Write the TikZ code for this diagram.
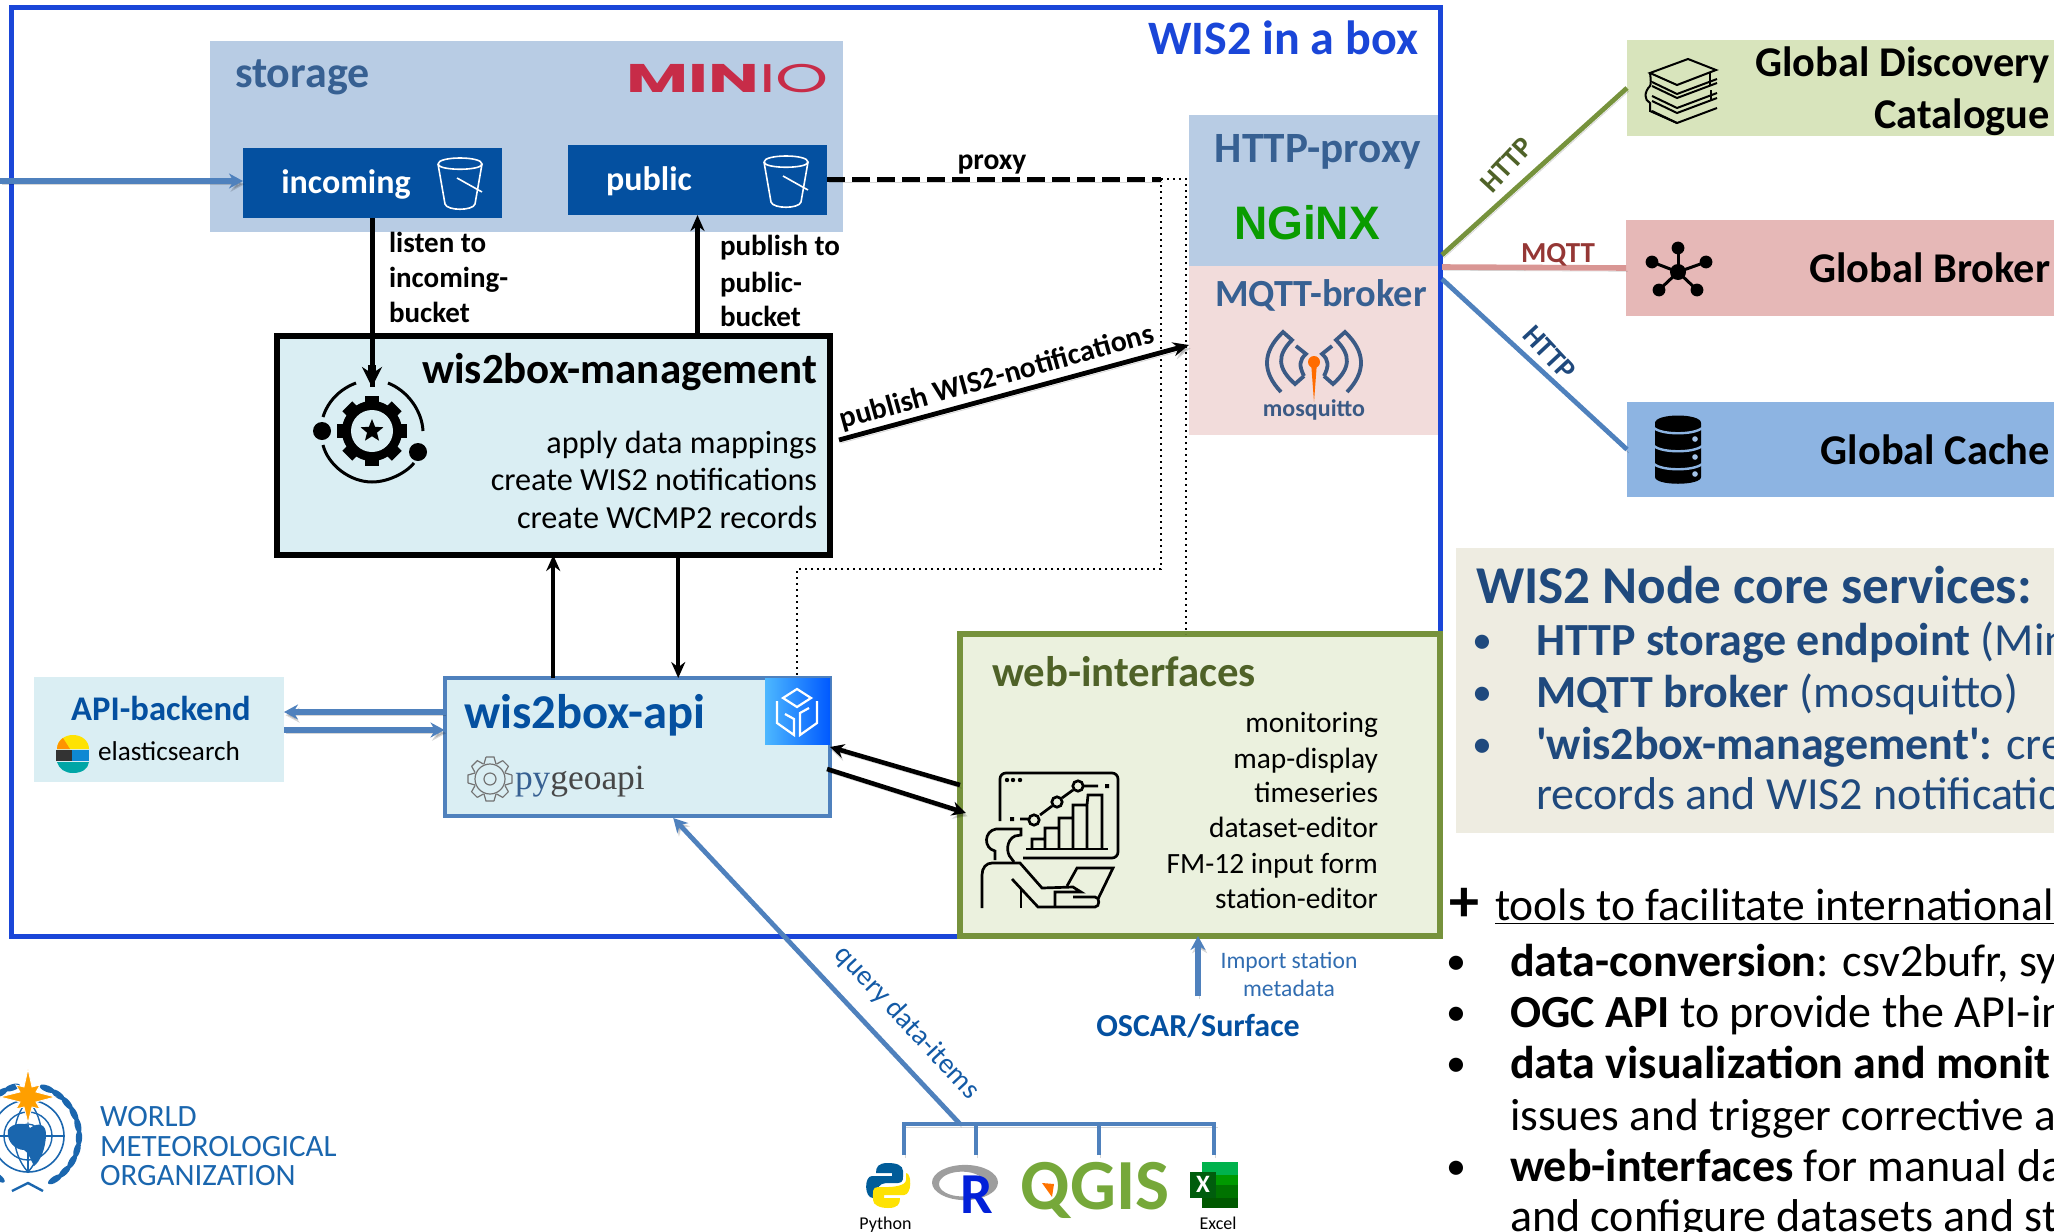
\documentclass[tikz,border=0pt]{standalone}
\usepackage{fontspec}
\usepackage{graphicx}
\setmainfont{Carlito}
\newfontfamily\plainc{Carlito}
\newfontfamily\serifish{Liberation Serif}
\newfontfamily\logofont{Poppins}
\newfontfamily\nginxfont{Liberation Sans}
\usetikzlibrary{arrows.meta,shapes.geometric,calc}
\definecolor{framec}{HTML}{1A46D8}
\definecolor{lblue}{HTML}{B8CCE4}
\definecolor{dblue}{HTML}{0450A0}
\definecolor{aqua}{HTML}{DAEEF3}
\definecolor{stblue}{HTML}{4F81BD}
\definecolor{slate}{HTML}{376092}
\definecolor{navy}{HTML}{1F497D}
\definecolor{pinkb}{HTML}{F2DCDB}
\definecolor{olive}{HTML}{76923C}
\definecolor{dolive}{HTML}{4F6228}
\definecolor{paleg}{HTML}{EBF1DE}
\definecolor{gdcg}{HTML}{D8E4BC}
\definecolor{brokerr}{HTML}{E6B8B7}
\definecolor{cacheb}{HTML}{8DB4E2}
\definecolor{sand}{HTML}{EEECE1}
\definecolor{minio}{HTML}{C72C48}
\definecolor{nginxg}{HTML}{0A9C00}
\definecolor{mosq}{HTML}{3B5A85}
\definecolor{wmo}{HTML}{1A66AE}
\definecolor{redline}{HTML}{D99694}
\definecolor{mqttc}{HTML}{953735}
\definecolor{qgisg}{HTML}{76A83A}
\def\u{0.5pt}
\newcommand{\fs}[1]{\fontsize{#1}{#1}\selectfont}
\newcommand{\bx}[6]{\pgfmathsetmacro\bcx{(#2+#4)/2}\pgfmathsetmacro\bcy{(#3+#5)/2}%
 \pgfmathsetmacro\bw{(#4-#2)*0.5}\pgfmathsetmacro\bh{(#5-#3)*0.5}%
 \node[#6,minimum width=\bw pt,minimum height=\bh pt,inner sep=0pt,outer sep=0pt] (#1) at (\bcx,\bcy) {};}
\newcommand{\tx}[5]{\node[inner sep=0pt,outer sep=0pt,anchor=mid,#4] (#1) at (#2,#3) {#5};}
\tikzset{
 L/.style={anchor=mid west},
 R/.style={anchor=mid east},
 sz/.style={font=\fs{#1},yshift={-(0.3*#1-2.15)*1pt}},
 szb/.style={font=\fs{#1}\bfseries,yshift={-(0.3*#1-2.15)*1pt}},
 shad/.style={preaction={draw=black,opacity=.16,transform canvas={shift={(0.8pt,-1.6pt)}}}},
 blk/.style={line width=2.2pt,black,-{Stealth[length=8pt,width=7pt]}},
 blu/.style={line width=2.6pt,stblue,-{Stealth[length=7pt,width=7.5pt]},shad},
 ico/.style={line width=1pt,black},
 bkt/.style={white,line width=0.8pt},
}
\begin{document}
\begin{tikzpicture}[x=0.5pt,y=-0.5pt,line join=miter]
\useasboundingbox (0,0) rectangle (2054,1231);
% frame
\bx{frame}{11.5}{7.5}{1440}{936}{draw=framec,line width=2.5pt}
\tx{titlewis}{1418}{40}{R,text=framec,szb=24}{WIS2 in a box}
% storage
\bx{storage}{210}{41}{843}{232}{fill=lblue}
\tx{storaget}{235}{74}{L,text=slate,szb=22}{storage}
\tx{miniot}{829}{80}{R,text=minio,sz=20}{\logofont\scalebox{1.69}[1]{\textbf{MIN}IO}}
\bx{incoming}{243}{148}{502}{218}{fill=dblue}
\bx{public}{568}{145}{827}{215}{fill=dblue}
\tx{incomingt}{346}{183}{text=white,szb=17}{incoming}
\tx{publict}{649}{180}{text=white,szb=17}{public}
\foreach \bxx/\bxy in {460/184,786/182}{
 \begin{scope}[shift={(\bxx,\bxy)}]
 \draw[bkt] (-22,-20) .. controls (-22,-28) and (22,-28) .. (22,-20) .. controls (22,-13) and (-22,-13) .. (-22,-20);
 \draw[bkt] (-22,-20) -- (-15,20) .. controls (-13,27) and (13,27) .. (15,20) -- (22,-20);
 \draw[bkt] (-3,-6) -- (22,8);
 \end{scope}}
% mgmt
\bx{mgmt}{277}{336}{830}{555}{draw=black,fill=aqua,line width=2.7pt}
\tx{mgmtt}{817}{370}{R,szb=21.5}{wis2box-management}
\tx{mgmta}{817}{443}{R,sz=16.1}{apply data mappings}
\tx{mgmtb}{817}{480}{R,sz=16.1}{create WIS2 notifications}
\tx{mgmtc}{817}{518}{R,sz=16.1}{create WCMP2 records}
\bx{gear}{328}{387}{416}{475}{}
\begin{scope}[shift={(372,431)}]
 \foreach \a in {0,45,...,315}{\fill[black,rotate=\a] (-7,-35) rectangle (7,-22);}
 \fill[black] (0,0) circle (15pt);
 \fill[aqua] (0,0) circle (10.5pt);
 \node[star,star points=5,star point ratio=2.3,fill=black,minimum size=12pt,inner sep=0pt] (gearstar) at (0,0) {};
 \draw[line width=1.5pt] (-49,-14) .. controls (-44,-30) and (-32,-42) .. (-16,-48);
 \draw[line width=1.5pt] (16,-48) .. controls (36,-40) and (50,-20) .. (51,0);
 \draw[line width=1.5pt] (-49,14) .. controls (-44,34) and (-22,51) .. (0,51) .. controls (18,51) and (36,40) .. (42,32);
 \fill (46,21) circle (4.5pt);
 \fill (-50,0) circle (4.5pt);
\end{scope}
% listen labels
\tx{l1}{389}{243}{L,szb=14.5}{listen to}
\tx{l2}{389}{278}{L,szb=14.5}{incoming-}
\tx{l3}{389}{313}{L,szb=14.5}{bucket}
\tx{p1}{720}{246}{L,szb=14.5}{publish to}
\tx{p2}{720}{283}{L,szb=14.5}{public-}
\tx{p3}{720}{317}{L,szb=14.5}{bucket}
\draw[line width=2.4pt] (incoming.south) -- (incoming.south |- gear.north);
\draw[line width=3.8pt,-{Stealth[length=10pt,width=10pt]}] ([yshift=22*\u]gear.north) -- (gear.north);
\draw[blk] (public.south |- mgmt.north) -- (public.south);
\coordinate (inL) at (0,181);
\draw[blu] (inL) -- (incoming.west |- inL);
% proxy stack
\bx{httpp}{1189}{115}{1438}{266}{fill=lblue}
\bx{mqttb}{1189}{266}{1438}{435}{fill=pinkb}
\tx{httpt}{1318}{149}{text=slate,szb=21.6}{HTTP-proxy}
\tx{nginxt}{1307}{225}{text=nginxg,szb=23.5}{\nginxfont\scalebox{0.98}[1]{NGiNX}}
\tx{mqttt}{1321}{295}{text=slate,szb=19.2}{MQTT-broker}
\tx{mosqt}{1314}{409}{text=mosq,szb=12}{mosquitto}
\foreach \sg in {1,-1}{
 \begin{scope}[shift={(1314,0)},xscale=\sg,mosq,line width=1.9pt]
 \draw (-33,392) .. controls (-52,372) and (-52,352) .. (-31,332) -- (-22,340) .. controls (-37,355) and (-37,368) .. (-19,384) -- (-10,376);
 \draw (-18,346) -- (-8,354) .. controls (-15,360) and (-15,366) .. (-10,376);
 \end{scope}}
\fill[orange!85!red] (1314,362) circle (3pt);
\fill[orange!85!red] (1311,362) -- (1317,362) -- (1314,402) -- cycle;
% proxy lines
\coordinate (pj) at (1161,179);
\coordinate (pk) at (1186,179);
\draw[line width=2.5pt,dash pattern=on 9pt off 3.5pt,shad] (public.east |- pj) -- (pj);
\tx{proxyt}{992}{160}{szb=14.8}{proxy}
% api
\bx{api}{444.5}{678}{830}{816}{draw=stblue,fill=aqua,line width=2pt}
\tx{apit}{464}{713}{L,text=dblue,szb=24.3}{wis2box-api}
\tx{pyg}{515}{778}{L,sz=17.7}{\serifish\textcolor{slate}{py}\textcolor{black!72}{geoapi}}
\begin{scope}[shift={(490,779)},black!55,line width=0.6pt]
 \foreach \a in {0,45,...,315}{\draw[rotate=\a] (-4,-22) -- (4,-22) -- (6,-15);\draw[rotate=\a] (-4,-22) -- (-6,-15);}
 \draw (0,0) circle (7.5pt);
 \draw (0,0) circle (3pt);
\end{scope}
\bx{ogc}{765}{678}{830}{744}{left color=cyan!60!blue!70!white,right color=blue!65!cyan}
\begin{scope}[shift={(797,711)},white,line width=1.1pt]
 \draw (0,-22) -- (14,-13) -- (0,-4) -- (-14,-13) -- cycle;
 \draw (-20,-10) -- (-20,12) -- (-3,24) -- (-3,8) -- (-12,3);
 \draw (20,-10) -- (20,12) -- (3,24) -- (3,2) -- (12,-3);
\end{scope}
% API backend
\bx{backend}{34}{677}{284}{782}{fill=aqua}
\tx{backt}{161}{710}{text=dblue,szb=17.3}{API-backend}
\tx{elast}{98}{752}{L,sz=13.6}{elasticsearch}
\fill[yellow!85!orange] (57,749) .. controls (57,740) and (65,735) .. (73,735) .. controls (82,735) and (89,741) .. (89,749) -- cycle;
\fill[orange!85!yellow] (57,749) .. controls (57,744) and (60,740) .. (63,738) -- (70,749) -- cycle;
\fill[black!80] (56,750) rectangle (72,761);
\fill[cyan!70!blue] (72,750) rectangle (89,761);
\fill[teal!70!cyan] (57,762) .. controls (59,769) and (65,773) .. (73,773) .. controls (82,773) and (88,769) .. (89,762) -- cycle;
\draw[blu] (api.west |- 0,712) -- (backend.east |- 0,712);
\draw[blu] (backend.east |- 0,730) -- (api.west |- 0,730);
% mgmt-api
\draw[blk] ([xshift=-84*\u]api.north) -- ([xshift=-84*\u]api.north |- mgmt.south);
\draw[blk] ([xshift=41*\u]api.north |- mgmt.south) -- ([xshift=41*\u]api.north);
% global boxes
\bx{gdc}{1627}{40}{2060}{136}{fill=gdcg}
\bx{broker}{1626}{220}{2060}{316}{fill=brokerr}
\bx{cache}{1627}{402}{2060}{497}{fill=cacheb}
\tx{gdct}{2050}{63}{R,szb=21.2}{Global Discovery}
\tx{gdcu}{2050}{115}{R,szb=21.2}{Catalogue}
\tx{brokt}{2050}{269}{R,szb=21.2}{Global Broker}
\tx{cacht}{2050}{451}{R,szb=21.2}{Global Cache}
% book icon
\draw[ico] (1650,73) -- (1688,59) -- (1716,70) -- (1677,85) -- cycle;
\foreach \ap in {94,98,108,113,123}{
 \draw[ico] (1652,\ap-12) -- (1677,\ap) -- (1717,\ap-15);}
\draw[ico] (1650,73) .. controls (1651,80) and (1651,84) .. (1650,86) .. controls (1644,92) and (1644,100) .. (1650,103) -- (1650,111) -- (1677,123);
\draw[ico] (1710,73) -- (1710,85) (1711,90) -- (1711,100);
% broker icon
\begin{scope}[shift={(1678,272)}]
 \foreach \xx/\yy in {0/-24,28/-10,19/18,-19/18,-26/-10}{
  \draw[line width=1.5pt] (0,0) -- (\xx,\yy);
  \fill (\xx,\yy) circle (3.2pt);}
 \fill (0,0) circle (4pt);
\end{scope}
% db icon
\fill (1655,423) .. controls (1655,413) and (1701,413) .. (1701,423) -- (1701,477) .. controls (1701,486) and (1655,486) .. (1655,477) -- cycle;
\foreach \dy in {428,446,464}{
 \draw[cacheb,line width=1.2pt] (1654,\dy) .. controls (1662,\dy+7) and (1694,\dy+7) .. (1702,\dy);}
\foreach \dy in {439,457,474}{\fill[cacheb!80!white] (1695,\dy) circle (1.4pt);}
% global lines
\draw[olive,line width=2.4pt,shad] ([yshift=216.75*\u,xshift=2*\u]frame.east) -- (gdc.west);
\draw[redline,line width=2.8pt,shad] ([yshift=204.75*\u,xshift=2*\u]frame.east) -- (broker.west);
\draw[stblue,line width=2.4pt,shad] ([yshift=192.75*\u,xshift=2*\u]frame.east) -- (cache.west);
\tx{h1}{1510}{168}{rotate=47,text=dolive,font=\fs{14.5}\bfseries}{HTTP}
\tx{m1}{1558}{253}{text=mqttc,szb=14.5}{MQTT}
\tx{h2}{1546}{356}{rotate=-47,text=navy,font=\fs{14.5}\bfseries}{HTTP}
% publish
\draw[line width=2.4pt,-{Stealth[length=8pt,width=7pt]},shad] ([xshift=9*\u,yshift=5.5*\u]mgmt.east) -- ([yshift=5.5*\u]mqttb.west);
\tx{pubt}{998}{381}{rotate=15.5,font=\fs{14.9}\bfseries}{publish WIS2-notifications}
% web
\bx{web}{960}{634}{1440}{936}{draw=olive,fill=paleg,line width=2.6pt}
\tx{webt}{992}{673}{L,text=dolive,szb=21.4}{web-interfaces}
\tx{w1}{1378}{723}{R,sz=14.7}{monitoring}
\tx{w2}{1378}{759}{R,sz=14.7}{map-display}
\tx{w3}{1378}{793}{R,sz=14.7}{timeseries}
\tx{w4}{1378}{828}{R,sz=14.7}{dataset-editor}
\tx{w5}{1378}{864}{R,sz=14.7}{FM-12 input form}
\tx{w6}{1378}{899}{R,sz=14.7}{station-editor}
% person icon
\begin{scope}[line width=1.35pt]
 \draw[rounded corners=3pt] (1000,821) -- (1000,773) -- (1118,773) -- (1118,858) -- (1023,858);
 \fill (1007,780) circle (1.1pt) (1013,780) circle (1.1pt) (1020,780) circle (1.1pt);
 \draw (1026,849) -- (1108,849);
 \draw (1032,849) -- (1032,839) -- (1045,839) -- (1045,849) (1045,839) -- (1045,828) -- (1059,828) -- (1059,849) (1059,828) -- (1059,818) -- (1073,818) -- (1073,849) (1073,818) -- (1073,805) -- (1087,805) -- (1087,849) (1087,805) -- (1088,795) -- (1102,795) -- (1102,849);
 \draw (1020,819) -- (1028,819) (1040,815) -- (1052,806) (1062,798) -- (1073,790) (1084,786) -- (1098,786);
 \foreach \xx/\yy in {1034/820,1057/802,1078/786}{\draw[fill=paleg] (\xx,\yy) circle (2.6pt);}
 \fill (1010,817) rectangle (1014,821) (1105,784) rectangle (1109,788);
 \draw (995,860) -- (995,851) .. controls (983,848) and (984,831) .. (996,829) -- (1021,829) -- (1021,835) -- (1015,836) .. controls (1006,840) and (1006,853) .. (1011,858) -- (1014,862);
 \draw (982,908) -- (982,875) .. controls (982,868) and (986,863) .. (992,863) -- (1020,863) -- (1042,888) -- (1073,887) -- (1081,892) -- (1055,892) -- (1055,907);
 \draw (1012,879) -- (1038,907) -- (1095,907) .. controls (1100,907) and (1100,897) .. (1095,897) -- (1073,897);
 \draw (1021,888) -- (1021,908);
 \draw (1067,886) -- (1077,868) -- (1113,868) -- (1098,899);
\end{scope}
% web-api
\draw[line width=2.3pt,-{Stealth[length=7pt,width=7pt]},shad] (web.west |- 0,785) -- (api.east |- 0,747);
\draw[line width=2.3pt,-{Stealth[length=7pt,width=7pt]},shad] ([xshift=-3*\u]api.east |- 0,769) -- (966,813);
% dotted
\draw[line width=1pt,dotted] (pj) -- (pk) -- (pk |- web.north);
\draw[line width=1pt,dotted] (pj) -- (pj |- 0,569) -| ([xshift=160*\u]api.north);
% query
\coordinate (qtop) at (960,1124);
\draw[blu,line width=2.4pt] (qtop) -- ([xshift=36*\u,yshift=-2*\u]api.south);
\tx{qt}{905}{1025}{rotate=-47,text=dblue!80!stblue,font=\fs{14.3}}{query data-items}
\coordinate (bl) at (904,1155);\coordinate (b2) at (976,1155);\coordinate (b3) at (1099,1155);\coordinate (b4) at (1214,1155);
\draw[stblue,line width=2.4pt,shad] (bl) -- (904,1124) -- (1216,1124);
\draw[stblue,line width=2.4pt,shad] (b2) -- (b2 |- qtop) (b3) -- (b3 |- qtop) (b4) -- (b4 |- qtop);
% oscar
\tx{oscart}{1198}{1026}{text=dblue,szb=16}{OSCAR/Surface}
\tx{imp1}{1289}{961}{text=stblue!60!dblue,sz=11.8}{Import station}
\tx{imp2}{1289}{989}{text=stblue!60!dblue,sz=11.8}{metadata}
\coordinate (oscb) at (1198,996);
\draw[blu] (oscb) -- (oscb |- web.south);
% python
\fill[blue!40!cyan!60!black] (888,1163) .. controls (878,1163) and (876,1167) .. (876,1173) -- (892,1173) -- (892,1176) -- (872,1176) .. controls (864,1176) and (864,1198) .. (873,1198) -- (878,1198) -- (878,1190) .. controls (878,1184) and (884,1183) .. (888,1183) -- (898,1183) .. controls (904,1183) and (903,1178) .. (903,1171) .. controls (903,1165) and (896,1163) .. (888,1163) -- cycle;
\fill[yellow!85!orange] (888,1208) .. controls (898,1208) and (900,1204) .. (900,1198) -- (884,1198) -- (884,1195) -- (904,1195) .. controls (912,1195) and (912,1173) .. (906,1173) -- (906,1180) .. controls (906,1186) and (892,1187) .. (888,1187) -- (878,1187) .. controls (872,1187) and (873,1192) .. (873,1200) .. controls (873,1205) and (880,1208) .. (888,1208) -- cycle;
\tx{pyt}{885.5}{1224}{sz=9}{Python}
% R
\fill[black!38,even odd rule] (965,1182.5) ellipse (16.5pt and 8.8pt) (962,1184) ellipse (11.5pt and 6.2pt);
\tx{rt}{977}{1213}{anchor=base,text=blue!60!dblue,font=\fs{29}\bfseries}{R}
% QGIS
\tx{qgis}{1095}{1209}{anchor=base,text=qgisg,font=\fs{36}\bfseries}{QGIS}
\fill[orange!90!red] (1042,1183) -- (1054,1184) -- (1052,1197) -- cycle;
% excel
\fill[green!35!black] (1202,1162) rectangle (1238,1208);
\fill[green!45!black] (1202,1162) rectangle (1238,1198);
\fill[green!60!black] (1202,1162) rectangle (1238,1185);
\fill[teal!60!green] (1202,1162) rectangle (1238,1175);
\fill[green!35!black!90!teal] (1190,1172) rectangle (1216,1198);
\tx{xlx}{1203}{1185}{text=white,szb=12.5}{X}
\tx{xlt}{1218}{1224}{sz=9}{Excel}
% WMO
\begin{scope}[wmo]
 \draw[line width=0.8pt] (28,1136) circle (18pt);
 \draw[line width=0.7pt] (28,1136) circle (12pt);
 \draw[line width=0.7pt] (28,1136) circle (6pt);
 \draw[line width=0.7pt] (28,1100) -- (28,1172) (-8,1136) -- (64,1136);
 \draw[line width=0.7pt] (28,1100) .. controls (10,1120) and (10,1152) .. (28,1172) .. controls (46,1152) and (46,1120) .. (28,1100);
 \fill (8,1130) .. controls (12,1122) and (28,1122) .. (30,1128) .. controls (38,1122) and (46,1124) .. (46,1134) .. controls (46,1148) and (40,1162) .. (34,1166) .. controls (30,1158) and (28,1152) .. (24,1150) .. controls (16,1150) and (6,1142) .. (8,1130) -- cycle;
 \foreach \a in {-58,-44,...,72}{\fill[rotate around={\a:(28,1136)}] (79,1136) ellipse (1.6pt and 4pt);}
 \foreach \a in {108,122,...,238}{\fill[rotate around={\a:(28,1136)}] (79,1136) ellipse (1.6pt and 4pt);}
 \draw[line width=1.2pt] (12,1191) -- (28,1183) -- (43,1191);
\end{scope}
\fill[orange!75!yellow,draw=white,line width=0.4pt] (28,1069) -- (32,1087) -- (40,1085) -- (36,1092) -- (55,1097) -- (36,1102) -- (40,1109) -- (32,1107) -- (28,1123) -- (24,1107) -- (16,1109) -- (20,1102) -- (0,1097) -- (20,1092) -- (16,1085) -- (24,1087) -- cycle;
\tx{wa}{100}{1117}{L,text=wmo,sz=15.5}{WORLD}
\tx{wb}{100}{1147}{L,text=wmo,sz=15.5}{METEOROLOGICAL}
\tx{wc}{100}{1176}{L,text=wmo,sz=15.5}{ORGANIZATION}
% core panel
\bx{core}{1456}{548}{2060}{833}{fill=sand}
\tx{coret}{1476}{587}{L,text=navy,szb=26.6}{WIS2 Node core services:}
\foreach \i/\yy in {1/641,2/693,3/745}{\tx{cb\i}{1482}{\yy}{text=navy,sz=20}{•}}
\tx{c1}{1536}{641}{L,text=navy,sz=23}{\textbf{HTTP storage endpoint} (Min}
\tx{c2}{1536}{693}{L,text=navy,sz=23}{\textbf{MQTT broker} (mosquitto)}
\tx{c3}{1536}{745}{L,text=navy,sz=23}{\textbf{{\plainc '}wis2box-management{\plainc '}:} cre}
\tx{c4}{1536}{795}{L,text=navy,sz=23}{records and WIS2 notificatio}
% tools
\tx{plus}{1464}{903}{szb=30}{+}
\tx{toolst}{1495}{906}{L,sz=22.8}{\underline{tools to facilitate international}}
\foreach \i/\yy in {1/962,2/1013,3/1064,4/1167}{\tx{tb\i}{1456}{\yy}{sz=20}{•}}
\tx{t1}{1510}{962}{L,sz=23}{\textbf{data-conversion}: csv2bufr, sy}
\tx{t2}{1510}{1013}{L,sz=23}{\textbf{OGC API} to provide the API-in}
\tx{t3}{1510}{1064}{L,sz=23}{\textbf{data visualization and monit}}
\tx{t4}{1510}{1116}{L,sz=22.6}{issues and trigger corrective a}
\tx{t5}{1510}{1167}{L,sz=23}{\textbf{web-interfaces} for manual da}
\tx{t6}{1510}{1217}{L,sz=23}{and configure datasets and st}
\end{tikzpicture}
\end{document}
